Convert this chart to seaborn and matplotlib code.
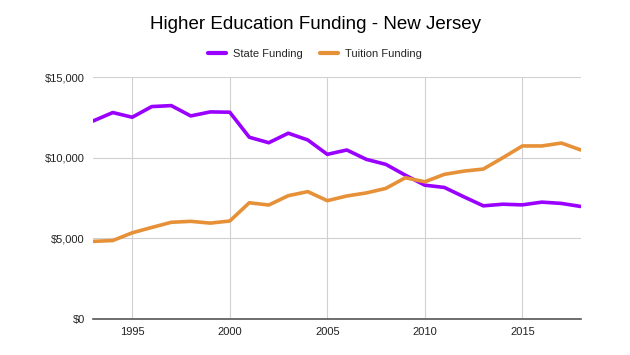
import pandas as pd
import matplotlib.pyplot as plt
import seaborn as sns
from matplotlib.lines import Line2D

years = list(range(1993, 2019))
state = [12280, 12800, 12510, 13170, 13230, 12590, 12840, 12820, 11270, 10930,
         11520, 11100, 10210, 10480, 9900, 9590, 8920, 8300, 8160, 7580,
         7020, 7120, 7080, 7250, 7170, 6980]
tuition = [4820, 4870, 5350, 5680, 6000, 6060, 5950, 6080, 7210, 7070,
           7650, 7900, 7340, 7630, 7820, 8100, 8760, 8510, 8970, 9170,
           9300, 10000, 10730, 10730, 10910, 10480]

df = pd.DataFrame({"year": years, "State Funding": state, "Tuition Funding": tuition})
long = df.melt(id_vars="year", var_name="series", value_name="value")

sns.set_style("whitegrid")
plt.rcParams['font.family'] = ['Liberation Sans', 'DejaVu Sans']

fig = plt.figure(figsize=(6.3, 3.55), dpi=100)
ax = fig.add_axes([0.148, 0.101, 0.774, 0.682])

sns.lineplot(data=long, x="year", y="value", hue="series",
             palette={"State Funding": "#9900ff", "Tuition Funding": "#e69138"},
             linewidth=2.6, ax=ax, legend=False)

ax.set_xlim(1993, 2018)
ax.set_ylim(0, 15000)
ax.set_xticks([1995, 2000, 2005, 2010, 2015])
ax.set_yticks([0, 5000, 10000, 15000])
ax.set_yticklabels(["$0", "$5,000", "$10,000", "$15,000"])
ax.set_xlabel("")
ax.set_ylabel("")
ax.grid(True, color="#d0d0d0", linewidth=0.8)
for s in ["top", "right", "left"]:
    ax.spines[s].set_visible(False)
ax.spines["bottom"].set_color("#555555")
ax.spines["bottom"].set_linewidth(1.2)
ax.tick_params(axis="both", labelsize=8, colors="#222222", length=0, pad=6,
               bottom=False, left=False)

fig.text(0.5, 0.93, "Higher Education Funding - New Jersey", ha="center",
         va="center", fontsize=13.5, color="#000000")

handles = [Line2D([], [], color="#9900ff", linewidth=3, solid_capstyle="round"),
           Line2D([], [], color="#e69138", linewidth=3, solid_capstyle="round")]
fig.legend(handles, ["State Funding", "Tuition Funding"], loc="center",
           bbox_to_anchor=(0.5, 0.848), ncol=2, frameon=False, fontsize=8,
           handlelength=1.6, handletextpad=0.6, columnspacing=1.6)

fig.savefig("out.png", dpi=100)
